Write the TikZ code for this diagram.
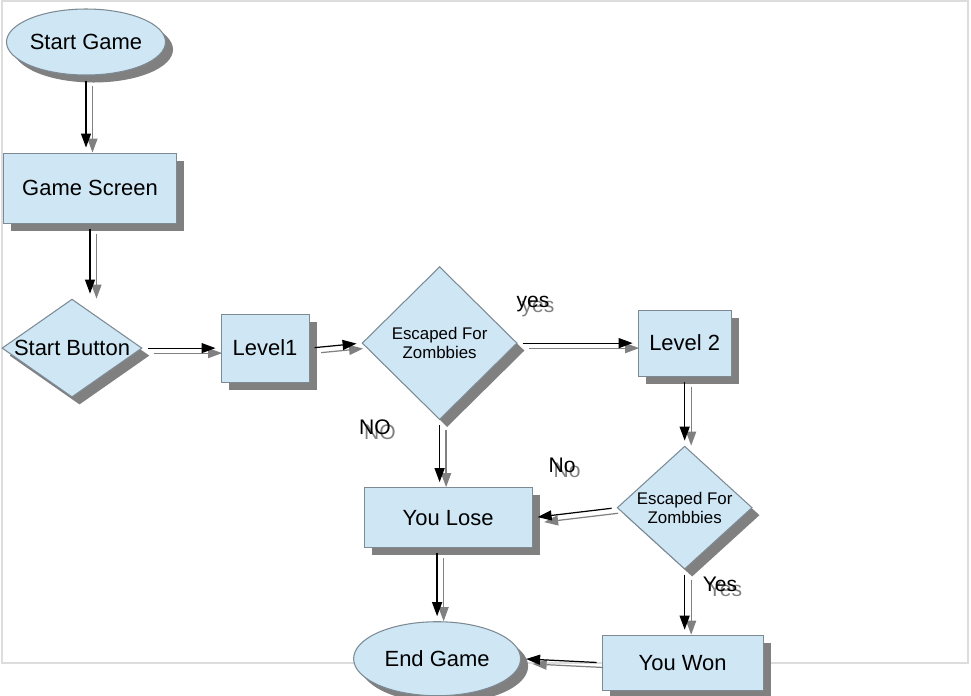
\documentclass[tikz,border=0pt]{standalone}
\usepackage{fontspec}
\setmainfont{Liberation Sans}
\usepackage{xcolor}
\definecolor{boxblue}{RGB}{207, 231, 245}
\definecolor{edgegray}{RGB}{125, 138, 148}
\definecolor{shadowgray}{RGB}{128, 128, 128}
\definecolor{framegray}{RGB}{221, 221, 221}
\usepackage{tikz}
\usetikzlibrary{
    shapes.geometric,
    arrows.meta,
    positioning,
    shadows
}
\tikzstyle{box} = [
    rectangle,
    draw=edgegray,
    line width=0.6pt,
    text centered,
    align=center,
    fill=boxblue,
    font=\fontsize{12.5}{15}\selectfont,
    drop shadow={shadow xshift=0.15cm, shadow yshift=-0.15cm,
                 fill=shadowgray, opacity=1}
]
\tikzstyle{term} = [
    box,
    ellipse,
    inner sep=0pt,
    drop shadow={shadow xshift=0.12cm, shadow yshift=-0.12cm,
                 fill=shadowgray, opacity=1}
]
\tikzstyle{decision} = [
    box,
    diamond,
    inner sep=-3pt
]
\tikzstyle{arrow} = [
    line width=0.7pt,
    -{Triangle[length=0.28cm, width=0.2cm]},
    shorten >=0.1cm,
    shorten <=0.1cm
]
\tikzstyle{arrowshadow} = [
    arrow,
    draw=shadowgray,
    transform canvas={xshift=0.13cm, yshift=-0.1cm}
]

\begin{document}
\begin{tikzpicture}[
    edgelabel/.style={font=\fontsize{12}{14}\selectfont},
    textshadow/.style={edgelabel, text=shadowgray, xshift=0.1cm, yshift=-0.1cm},
    small/.style={font=\fontsize{9.6}{11}\selectfont}
]

\useasboundingbox (0,0) rectangle (19.42,-13.9);
\draw [framegray, line width=1pt] (0.04,-0.02) rectangle (19.36,-13.26);

\node (start) [term, minimum width=3.18cm, minimum height=1.32cm]
    at (1.72,-0.84) {Start Game};
\node (screen) [box, minimum width=3.46cm, minimum height=1.4cm,
    below=1.54cm of start, xshift=0.08cm] {Game Screen};
\node (button) [decision, aspect=1.43, minimum width=2.8cm, minimum height=1.96cm,
    below=1.5cm of screen, xshift=-0.36cm] {Start Button};
\node (level1) [box, minimum width=1.76cm, minimum height=1.36cm,
    right=1.56cm of button] {Level1};
\node (esc1) [decision, small, minimum width=3.1cm, minimum height=3.06cm,
    right=1.04cm of level1, yshift=0.1cm] {Escaped For\\Zombbies};
\node (level2) [box, minimum width=1.86cm, minimum height=1.32cm,
    right=2.4cm of esc1] {Level 2};
\node (esc2) [decision, small, aspect=1.1, minimum width=2.7cm, minimum height=2.46cm,
    below=1.38cm of level2] {Escaped For\\Zombbies};
\node (lose) [box, minimum width=3.36cm, minimum height=1.2cm,
    left=1.68cm of esc2, yshift=-0.2cm] {You Lose};
\node (endgame) [term, minimum width=3.34cm, minimum height=1.48cm,
    below=1.46cm of lose, xshift=-0.22cm] {End Game};
\node (won) [box, minimum width=3.22cm, minimum height=1.1cm,
    below=1.3cm of esc2, xshift=-0.04cm] {You Won};

% Pfeile mit Schatten
\foreach \a/\b in {%
    start.south/start.south |- screen.north,
    screen.south/screen.south |- button.north,
    button.east/level1.west,
    level1.east/esc1.west,
    esc1.east/level2.west,
    level2.south/esc2.north,
    esc1.south/esc1.south |- lose.north,
    esc2.west/lose.east,
    esc2.south/esc2.south |- won.north,
    endgame.north |- lose.south/endgame.north,
    won.west/endgame.east%
} {
    \draw [arrowshadow] (\a) -- (\b);
    \draw [arrow] (\a) -- (\b);
}

% Beschriftungen
\foreach \pos/\txt [count=\i] in {%
    {(10.66,-6.08)}/yes,
    {(7.5,-8.54)}/NO,
    {(11.24,-9.3)}/No,
    {(14.4,-11.68)}/Yes%
} {
    \node (labelshadow\i) [textshadow] at \pos {\txt};
    \node (label\i) [edgelabel] at \pos {\txt};
}

\end{tikzpicture}
\end{document}
